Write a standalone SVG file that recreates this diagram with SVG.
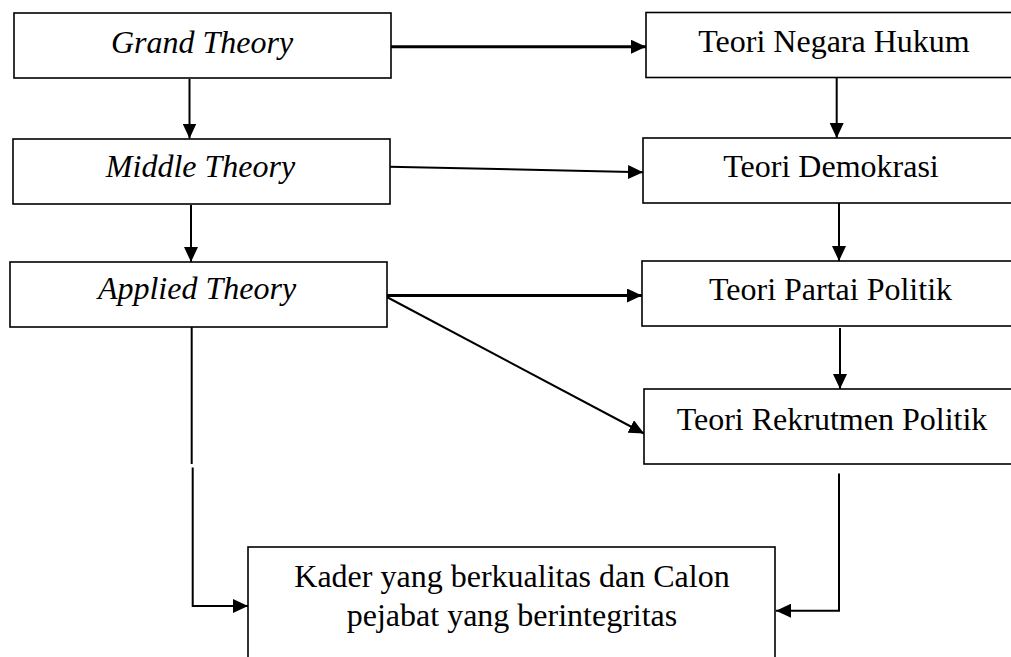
<svg xmlns="http://www.w3.org/2000/svg" width="1011" height="657" viewBox="0 0 1011 657">
<defs>
<style>
.box{fill:#fff;stroke:#000;stroke-width:1.6}
.t{font-family:"Liberation Serif","Times New Roman",serif;font-size:32px;fill:#000;text-anchor:middle}
.i{font-style:italic}
.c{fill:none;stroke:#000;stroke-width:2}
.k{stroke-width:3}
</style>
<marker id="ah" markerUnits="userSpaceOnUse" markerWidth="15" markerHeight="14" refX="15" refY="7" orient="auto" viewBox="0 0 15 14">
<path d="M0,0 L15,7 L0,14 z" fill="#000"/>
</marker>
</defs>
<rect width="1011" height="657" fill="#fff"/>
<g id="connectors">
<line class="c k" x1="391" y1="46.7" x2="646" y2="46.7" marker-end="url(#ah)"/>
<line class="c" x1="389" y1="166.7" x2="643" y2="172.3" marker-end="url(#ah)"/>
<line class="c k" x1="384" y1="295.5" x2="642" y2="295.5" marker-end="url(#ah)"/>
<line class="c" x1="384" y1="295.5" x2="644" y2="433.5" marker-end="url(#ah)"/>
<line class="c" x1="189.5" y1="79" x2="189.5" y2="138.5" marker-end="url(#ah)"/>
<line class="c" x1="191" y1="205" x2="191" y2="262" marker-end="url(#ah)"/>
<line class="c" x1="836.7" y1="78" x2="836.7" y2="138" marker-end="url(#ah)"/>
<line class="c" x1="839" y1="201" x2="839" y2="261" marker-end="url(#ah)"/>
<line class="c" x1="840" y1="328" x2="840" y2="389" marker-end="url(#ah)"/>
<line class="c" x1="191.7" y1="327" x2="191.7" y2="464"/>
<polyline class="c" points="192.7,467.5 192.7,606 248,606" marker-end="url(#ah)"/>
<polyline class="c" points="839,473.5 839,610.7 776,610.7" marker-end="url(#ah)"/>
</g>
<g id="grand-theory">
<rect class="box" x="14" y="13" width="377" height="65"/>
<text class="t i" x="202" y="53">Grand Theory</text>
</g>
<g id="middle-theory">
<rect class="box" x="13" y="139" width="377" height="65"/>
<text class="t i" x="200.5" y="177">Middle Theory</text>
</g>
<g id="applied-theory">
<rect class="box" x="10" y="262" width="377" height="65"/>
<text class="t i" x="197" y="299">Applied Theory</text>
</g>
<g id="teori-negara-hukum">
<rect class="box" x="646" y="12.5" width="380" height="65"/>
<text class="t" x="834" y="52">Teori Negara Hukum</text>
</g>
<g id="teori-demokrasi">
<rect class="box" x="643" y="138" width="380" height="65"/>
<text class="t" x="831" y="177">Teori Demokrasi</text>
</g>
<g id="teori-partai-politik">
<rect class="box" x="642" y="261" width="380" height="65"/>
<text class="t" x="830.5" y="300">Teori Partai Politik</text>
</g>
<g id="teori-rekrutmen-politik">
<rect class="box" x="644" y="389" width="380" height="75"/>
<text class="t" x="832" y="430">Teori Rekrutmen Politik</text>
</g>
<g id="kader">
<rect class="box" x="248" y="547" width="527" height="130"/>
<text class="t" x="512" y="587">Kader yang berkualitas dan Calon</text>
<text class="t" x="512" y="626">pejabat yang berintegritas</text>
</g>
</svg>
